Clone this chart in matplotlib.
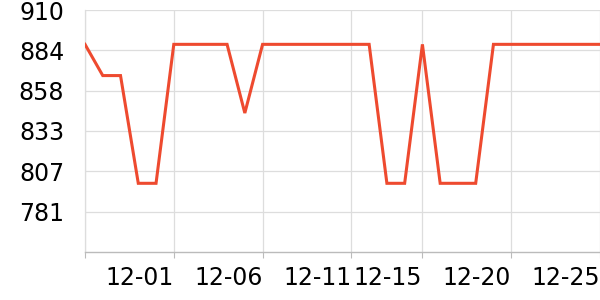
import matplotlib
matplotlib.use("Agg")
import matplotlib.pyplot as plt
import numpy as np

dates = ["11-26", "11-27", "11-28", "11-29", "11-30",
         "12-01", "12-02", "12-03", "12-04", "12-05",
         "12-06", "12-07", "12-08", "12-09", "12-10",
         "12-11", "12-12", "12-13", "12-14", "12-15",
         "12-16", "12-17", "12-18", "12-19", "12-20",
         "12-21", "12-22", "12-23", "12-24", "12-25"]
values = [888, 868, 868, 799, 799,
          888, 888, 888, 888, 844,
          888, 888, 888, 888, 888,
          888, 888, 799, 799, 888,
          799, 799, 799, 888, 888,
          888, 888, 888, 888, 888]
tick_dates = ["11-26", "12-01", "12-06", "12-11", "12-15", "12-20", "12-25"]
tick_labels = ["", "12-01", "12-06", "12-11", "12-15", "12-20", "12-25"]
y_min, y_max = 755, 910


def main():
    fig = plt.figure(figsize=(6, 3), dpi=100)
    ax = fig.add_axes([85 / 600, 48 / 300, 515 / 600, 242 / 300])

    x = np.arange(len(dates))
    ax.plot(x, values, color="#ee4a2f", lw=2.2, solid_joinstyle="miter", zorder=3)

    ax.set_xlim(0, len(dates) - 1)
    ax.set_ylim(y_min, y_max)

    yt = np.linspace(y_min, y_max, 7)[1:]
    ax.set_yticks(yt)
    ax.set_yticklabels([str(int(np.floor(v + 0.5))) for v in yt])

    xt = [dates.index(d) for d in tick_dates]
    ax.set_xticks(xt)
    ax.set_xticklabels(tick_labels, ha="right")

    ax.grid(True, color="#dddddd", lw=0.9)
    ax.set_axisbelow(True)
    for s in ["top", "right"]:
        ax.spines[s].set_visible(False)
    ax.spines["left"].set_color("#dddddd")
    ax.spines["left"].set_linewidth(0.9)
    ax.spines["bottom"].set_color("#bbbbbb")
    ax.spines["bottom"].set_linewidth(1.0)

    ax.tick_params(axis="y", length=0, pad=15, labelsize=17)
    ax.tick_params(axis="x", length=4, color="#bbbbbb", pad=6, labelsize=17)

    plt.savefig("out.png", dpi=100)


if __name__ == "__main__":
    main()
